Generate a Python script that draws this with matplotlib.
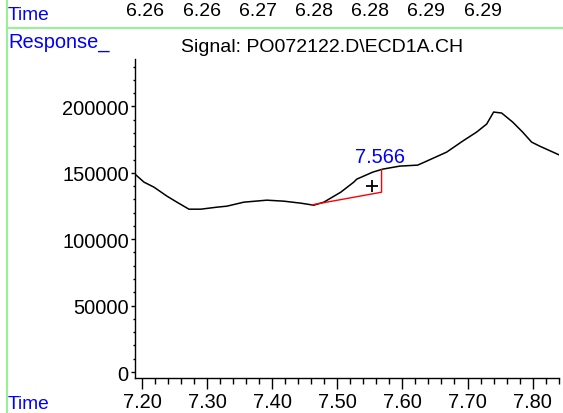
import matplotlib
matplotlib.use("Agg")
import matplotlib.pyplot as plt
from matplotlib.ticker import MultipleLocator, FixedLocator, FormatStrFormatter

plt.rcParams['font.family'] = ['Liberation Sans', 'DejaVu Sans']

# ---- data ----
time = [7.1893, 7.2031, 7.2184, 7.2384, 7.2537, 7.2721, 7.2905, 7.3151, 7.3304,
        7.3565, 7.3918, 7.4179, 7.4440, 7.4639, 7.4793, 7.5054, 7.5253, 7.5299,
        7.5545, 7.5698, 7.5959, 7.6235, 7.6373, 7.6680, 7.6926, 7.7140, 7.7294,
        7.7401, 7.7524, 7.7693, 7.7846, 7.7984, 7.8107, 7.8414]
response = [149010, 142980, 139210, 132420, 127900, 122620, 122620, 124130, 124880,
            127900, 129400, 128650, 127140, 125630, 127900, 135440, 142980, 145240,
            150520, 152780, 155040, 155800, 158810, 165600, 173890, 180680, 186710,
            195760, 195010, 188220, 180680, 173140, 170120, 163340]
baseline_x = [7.461, 7.568, 7.568]
baseline_y = [125900, 135400, 152300]
peak_rt = 7.566
peak_label_y = 162600
marker_x = [7.553]
marker_y = [139700]
top_labels = ["6.26", "6.26", "6.27", "6.28", "6.28", "6.29", "6.29"]
title = r"Signal: PO072122.D\ECD1A.CH"
yticks = [0, 50000, 100000, 150000, 200000]

W, H = 563, 414
fig = plt.figure(figsize=(W / 100, H / 100), dpi=100)

def fx(px):
    return px / W

def fy(py):
    return 1 - py / H

ax = fig.add_axes([fx(135), fy(379), fx(559) - fx(135), fy(60) - fy(379)])
ax.plot(time, response, color='black', lw=1.1)
ax.plot(baseline_x, baseline_y, color='red', lw=1.0)
ax.plot(marker_x, marker_y, marker='+', color='black', ms=9, mew=1.3, ls='none')
ax.text(peak_rt, peak_label_y, f"{peak_rt:.3f}", color='#0000FF', fontsize=14.4,
        ha='center', va='center')

ax.set_xlim(7.1893, 7.8405)
ax.set_ylim(-4500, 235700)
for s in ['top', 'right']:
    ax.spines[s].set_visible(False)
ax.spines['left'].set_linewidth(1.0)
ax.spines['bottom'].set_linewidth(1.0)

ax.xaxis.set_major_locator(MultipleLocator(0.1))
ax.xaxis.set_minor_locator(MultipleLocator(0.02))
ax.xaxis.set_major_formatter(FormatStrFormatter('%.2f'))
ax.yaxis.set_major_locator(FixedLocator(yticks))
ax.yaxis.set_minor_locator(MultipleLocator(10000))
ax.tick_params(axis='x', which='major', direction='out', length=8, width=1.0,
               labelsize=14.4, pad=2)
ax.tick_params(axis='x', which='minor', direction='out', length=4.5, width=1.0)
ax.tick_params(axis='y', which='major', direction='out', length=3, width=1.0,
               labelsize=14.4, pad=1.5)
ax.tick_params(axis='y', which='minor', direction='out', length=1.5, width=1.0)

# header / frame decorations
green = '#99F099'
fig.add_artist(plt.Line2D([fx(7.3), fx(7.3)], [0, 1], color=green, lw=1.5))
fig.add_artist(plt.Line2D([fx(7.3), 1], [fy(28.5), fy(28.5)], color=green, lw=1.5))

fig.text(fx(8), fy(15.5), "Time", color='#0000FF', fontsize=13.8, ha='left', va='center')
fig.text(fx(8), fy(42), "Response_", color='#0000FF', fontsize=14.4, ha='left', va='center')
fig.text(fx(8), fy(413), "Time", color='#0000FF', fontsize=13.8, ha='left', va='bottom')
for i, lab in enumerate(top_labels):
    fig.text(fx(145.3 + i * 56.2), fy(11), lab, color='black', fontsize=14,
             ha='center', va='center')
fig.text(fx(322.5), fy(47.5), title, color='black', fontsize=14, ha='center', va='center')

fig.savefig("out.png", dpi=100)
